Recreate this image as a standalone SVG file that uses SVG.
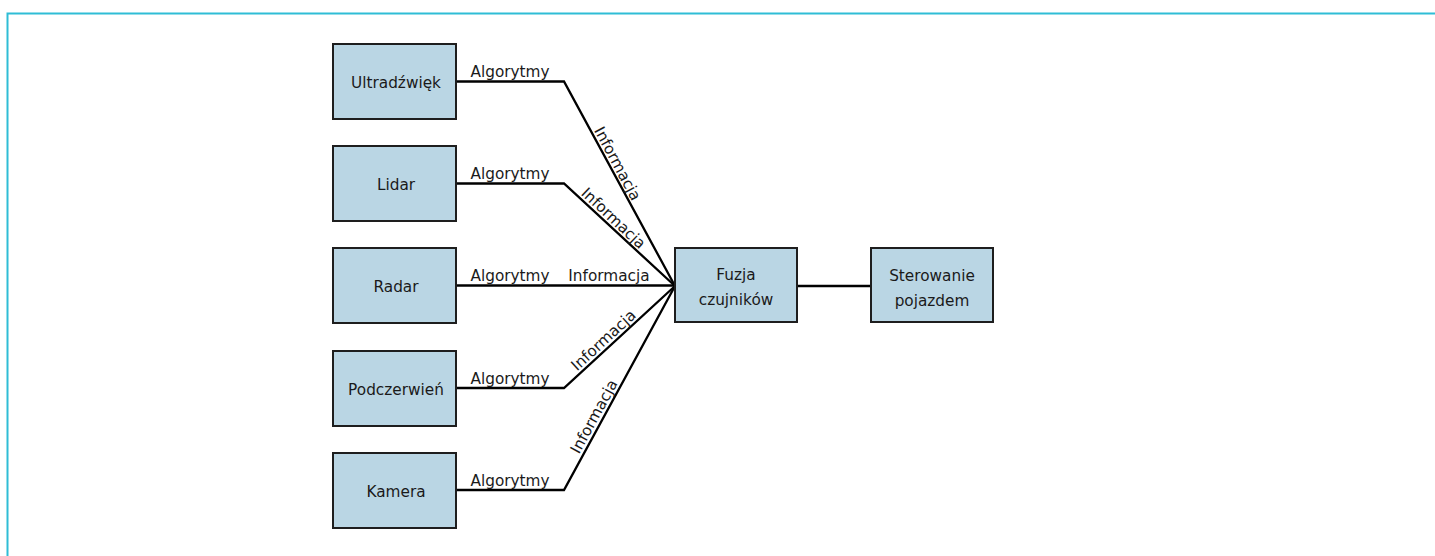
<svg xmlns="http://www.w3.org/2000/svg" width="1435" height="556" viewBox="0 0 1435 556">
<style>
.box{fill:#bad6e4;stroke:#1e1e1e;stroke-width:2}
.t{font-family:"DejaVu Sans","Liberation Sans",sans-serif;font-size:15.3px;fill:#1a1a1a;text-anchor:middle}
.c{fill:none;stroke:#000;stroke-width:2.3;stroke-linejoin:miter}
</style>
<rect width="1435" height="556" fill="#fff"/>
<path d="M7.5,556 V13.5 H1435" fill="none" stroke="#2fbdd6" stroke-width="2"/>
<g id="connectors">
<polyline class="c" points="456,81.5 564,81.5 675,286"/>
<polyline class="c" points="456,183.5 564,183.5 675,286"/>
<polyline class="c" points="456,285.5 675,285.5"/>
<polyline class="c" points="456,388 564,388 675,286"/>
<polyline class="c" points="456,490 564,490 675,286"/>
<line class="c" x1="797" y1="286" x2="871" y2="286"/>
<text class="t" x="510" y="77">Algorytmy</text>
<text class="t" x="510" y="179">Algorytmy</text>
<text class="t" x="510" y="281">Algorytmy</text>
<text class="t" x="510" y="384">Algorytmy</text>
<text class="t" x="510" y="486">Algorytmy</text>
<text class="t" x="609" y="281">Informacja</text>
<text class="t" transform="translate(613,166) rotate(61.8)">Informacja</text>
<text class="t" transform="translate(610,222) rotate(43.1)">Informacja</text>
<text class="t" transform="translate(607,344) rotate(-42.6)">Informacja</text>
<text class="t" transform="translate(598.5,419) rotate(-61.5)">Informacja</text>
</g>
<g id="ultradzwiek"><rect class="box" x="333" y="44" width="123" height="75"/><text class="t" x="396" y="88">Ultradźwięk</text></g>
<g id="lidar"><rect class="box" x="333" y="146" width="123" height="75"/><text class="t" x="396" y="190">Lidar</text></g>
<g id="radar"><rect class="box" x="333" y="248" width="123" height="75"/><text class="t" x="396" y="292">Radar</text></g>
<g id="podczerwien"><rect class="box" x="333" y="351" width="123" height="75"/><text class="t" x="396" y="395">Podczerwień</text></g>
<g id="kamera"><rect class="box" x="333" y="453" width="123" height="75"/><text class="t" x="396" y="497">Kamera</text></g>
<g id="fuzja"><rect class="box" x="675" y="248" width="122" height="74"/><text class="t" x="736" y="280">Fuzja</text><text class="t" x="736" y="305">czujników</text></g>
<g id="sterowanie"><rect class="box" x="871" y="248" width="122" height="74"/><text class="t" x="932" y="281">Sterowanie</text><text class="t" x="932" y="306">pojazdem</text></g>
</svg>
